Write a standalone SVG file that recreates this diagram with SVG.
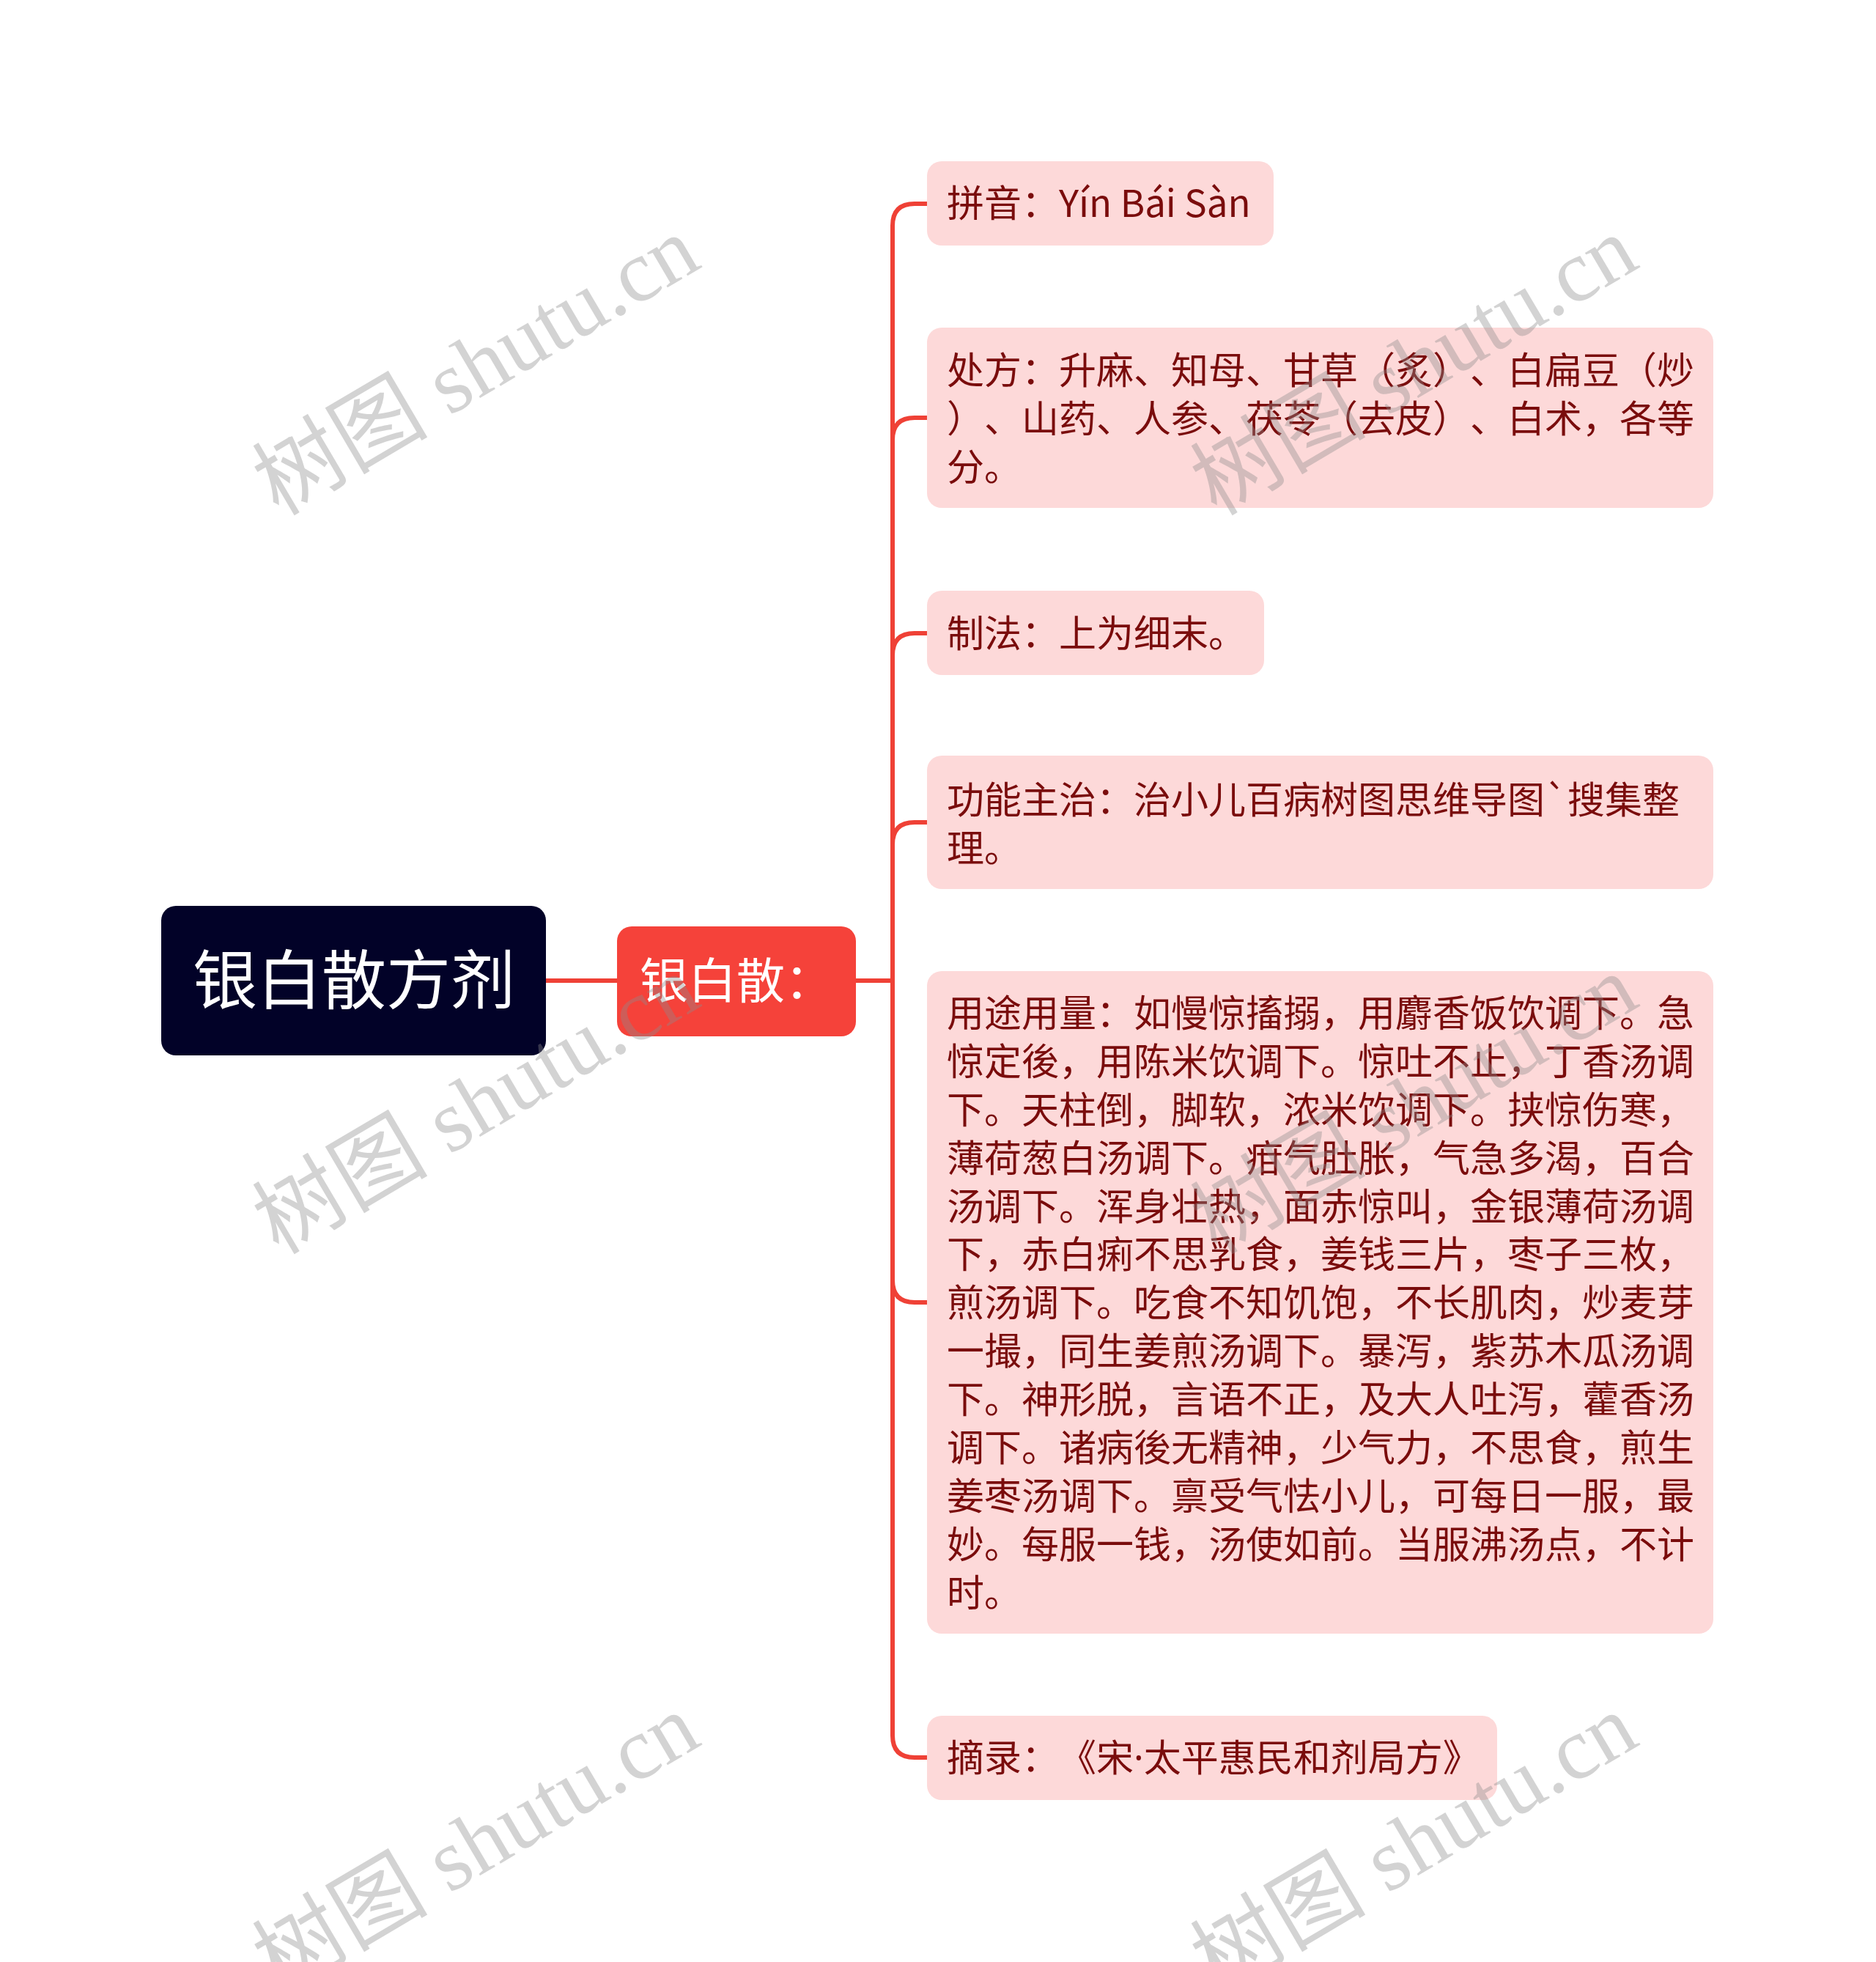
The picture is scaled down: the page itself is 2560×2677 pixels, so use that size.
<svg xmlns="http://www.w3.org/2000/svg" width="2560" height="2677" viewBox="0 0 2560 2677">
<style>
text{text-spacing-trim:space-all;font-kerning:none}
.bg{fill:#ffffff}
.conn{fill:none;stroke:#ef4136;stroke-width:6;stroke-linecap:butt}
.leaf{fill:#fdd9d9}
.lt{font-family:"Noto Sans CJK SC","Noto Sans",sans-serif;font-size:51px;fill:#7a0c0c}
.dot{font-family:"Noto Sans","Liberation Sans",sans-serif}
.wm{font-family:"Liberation Serif","Noto Sans CJK SC",serif;font-size:120px;fill:#8c8c8c;fill-opacity:0.38}
</style>
<rect class="bg" x="0" y="0" width="2560" height="2677"/>
<g id="connectors">
<path class="conn" d="M745 1338 L842 1338"/>
<path class="conn" d="M1168 1338 L1218 1338"/>
<path class="conn" d="M1218 1338 L1218 308 Q1218 278 1248 278 L1266 278"/>
<path class="conn" d="M1218 1338 L1218 600 Q1218 570 1248 570 L1266 570"/>
<path class="conn" d="M1218 1338 L1218 894 Q1218 864 1248 864 L1266 864"/>
<path class="conn" d="M1218 1338 L1218 1152 Q1218 1122 1248 1122 L1266 1122"/>
<path class="conn" d="M1218 1338 L1218 1747 Q1218 1777 1248 1777 L1266 1777"/>
<path class="conn" d="M1218 1338 L1218 2368 Q1218 2398 1248 2398 L1266 2398"/>
</g>
<g id="root">
<rect x="220" y="1236" width="525" height="204" rx="20" fill="#020228"/>
<text x="483" y="1369" text-anchor="middle" font-family="Noto Sans CJK SC, sans-serif" font-size="88" fill="#ffffff">银白散方剂</text>
</g>
<g id="main">
<rect x="842" y="1264" width="326" height="150" rx="20" fill="#f5423a"/>
<text x="873" y="1362" font-family="Noto Sans CJK SC, sans-serif" font-size="66" fill="#ffffff">银白散：</text>
</g>
<g id="n1">
<rect class="leaf" x="1265" y="220" width="473" height="115" rx="20"/>
<text class="lt" x="1292" y="296">拼音：Yín Bái Sàn</text>
</g>
<g id="n2">
<rect class="leaf" x="1265" y="447" width="1073" height="246" rx="20"/>
<text class="lt" x="1292" y="524">处方：升麻、知母、甘草（炙）、白扁豆（炒</text>
<text class="lt" x="1292" y="590">）、山药、人参、茯苓（去皮）、白术，各等</text>
<text class="lt" x="1292" y="656">分。</text>
</g>
<g id="n3">
<rect class="leaf" x="1265" y="806" width="460" height="115" rx="20"/>
<text class="lt" x="1292" y="883">制法：上为细末。</text>
</g>
<g id="n4">
<rect class="leaf" x="1265" y="1031" width="1073" height="182" rx="20"/>
<text class="lt" x="1292" y="1110">功能主治：治小儿百病树图思维导图`搜集整</text>
<text class="lt" x="1292" y="1176">理。</text>
</g>
<g id="n5">
<rect class="leaf" x="1265" y="1325" width="1073" height="904" rx="20"/>
<text class="lt" x="1292" y="1401">用途用量：如慢惊搐搦，用麝香饭饮调下。急</text>
<text class="lt" x="1292" y="1467">惊定後，用陈米饮调下。惊吐不止，丁香汤调</text>
<text class="lt" x="1292" y="1533">下。天柱倒，脚软，浓米饮调下。挟惊伤寒，</text>
<text class="lt" x="1292" y="1599">薄荷葱白汤调下。疳气肚胀，气急多渴，百合</text>
<text class="lt" x="1292" y="1665">汤调下。浑身壮热，面赤惊叫，金银薄荷汤调</text>
<text class="lt" x="1292" y="1730">下，赤白痢不思乳食，姜钱三片，枣子三枚，</text>
<text class="lt" x="1292" y="1796">煎汤调下。吃食不知饥饱，不长肌肉，炒麦芽</text>
<text class="lt" x="1292" y="1862">一撮，同生姜煎汤调下。暴泻，紫苏木瓜汤调</text>
<text class="lt" x="1292" y="1928">下。神形脱，言语不正，及大人吐泻，藿香汤</text>
<text class="lt" x="1292" y="1994">调下。诸病後无精神，少气力，不思食，煎生</text>
<text class="lt" x="1292" y="2060">姜枣汤调下。禀受气怯小儿，可每日一服，最</text>
<text class="lt" x="1292" y="2126">妙。每服一钱，汤使如前。当服沸汤点，不计</text>
<text class="lt" x="1292" y="2192">时。</text>
</g>
<g id="n6">
<rect class="leaf" x="1265" y="2341" width="778" height="115" rx="20"/>
<text class="lt" x="1292" y="2417">摘录：《宋<tspan class="dot">·</tspan>太平惠民和剂局方》</text>
</g>
<g id="watermarks">
<text class="wm" transform="translate(380 705) rotate(-30.5)">树图 shutu.cn</text>
<text class="wm" transform="translate(1660 705) rotate(-30.5)">树图 shutu.cn</text>
<text class="wm" transform="translate(380 1713) rotate(-30.5)">树图 shutu.cn</text>
<text class="wm" transform="translate(1660 1713) rotate(-30.5)">树图 shutu.cn</text>
<text class="wm" transform="translate(380 2721) rotate(-30.5)">树图 shutu.cn</text>
<text class="wm" transform="translate(1660 2721) rotate(-30.5)">树图 shutu.cn</text>
</g>
</svg>
